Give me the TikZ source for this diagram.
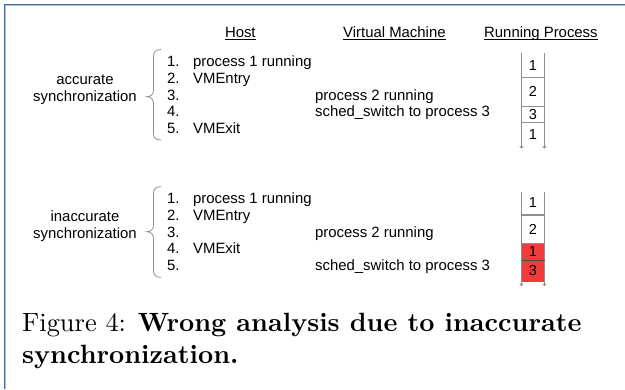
\documentclass[tikz,border=0pt]{standalone}
\usepackage{fontspec}
\usepackage{graphicx}
\usetikzlibrary{arrows.meta}
\newfontfamily\diagfont{Liberation Sans}
\definecolor{framedark}{HTML}{4A6A94}
\definecolor{framelight}{HTML}{A9C1DF}
\definecolor{rulegray}{HTML}{8F8F8F}
\definecolor{hotred}{HTML}{F03C3C}
\begin{document}
\begin{tikzpicture}[x=1pt,y=-1pt,
  txt/.style={font=\diagfont\fontsize{14.9}{17}\selectfont, inner sep=0pt, anchor=base west},
  side/.style={txt, anchor=base},
  digit/.style={font=\diagfont\fontsize{14.5}{17}\selectfont, inner sep=0pt, anchor=center},
  headrule/.style={draw=black, line width=0.9pt},
  bracepath/.style={draw=rulegray, line width=0.8pt},
  colline/.style={draw=rulegray, line width=0.8pt, -{To[length=2.5pt,width=4pt]}},
  divider/.style={draw=rulegray, line width=0.8pt},
  capline/.style={inner sep=0pt, anchor=base west}]
\useasboundingbox (0,0) rectangle (625,389);

% page frame (top and left edges)
\draw[framedark, line width=1.2pt] (4.5,389) -- (4.5,4.6) -- (625,4.6);
\draw[framelight, line width=1pt] (5.8,389) -- (5.8,5.9) -- (625,5.9);

% column headers
\node[txt] (hhost) at (224.8,37) {Host};
\node[txt] (hvm)   at (343,37)   {Virtual Machine};
\node[txt] (hrun)  at (484,37)   {Running Process};
\foreach \h in {hhost,hvm,hrun}
  \draw[headrule] ([yshift=-2.6pt]\h.base west) -- ([yshift=-2.6pt]\h.base east);

% ---------- accurate synchronization ----------
\node[side] (acc1) at (85,84.5) {accurate};
\node[side] (acc2) at (85,101)  {synchronization};
\draw[bracepath] (161,49.5) .. controls (155.5,49.5) and (153.5,52) .. (153.5,57)
  -- (153.5,90) .. controls (153.5,94.5) and (150.5,96.7) .. (147,96.7)
  .. controls (150.5,96.7) and (153.5,99) .. (153.5,103.5)
  -- (153.5,133) .. controls (153.5,138) and (155.5,140) .. (161,140);

\node[txt] (an1) at (167,66.5)  {1.};
\node[txt] (an2) at (167,83.3)  {2.};
\node[txt] (an3) at (167,100)   {3.};
\node[txt] (an4) at (167,116.8) {4.};
\node[txt] (an5) at (167,133.5) {5.};
\node[txt] (ah1) at (193,66.5)  {process 1 running};
\node[txt] (ah2) at (193,83.3)  {VMEntry};
\node[txt] (ah5) at (193,133.5) {VMExit};
\node[txt] (av3) at (315,100)   {process 2 running};
\node[txt] (av4) at (315,116.8) {sched\_switch to process 3};

% running-process column
\draw[colline] (521.5,53) -- (521.5,148.5);
\draw[colline] (544.5,53) -- (544.5,148.5);
\draw[divider] (521.5,77.7) -- (544.5,77.7);
\draw[divider] (521.5,106) -- (544.5,106);
\draw[divider] (521.5,122) -- (544.5,122);
\node[digit] (ap1) at (533,65.3)  {1};
\node[digit] (ap2) at (533,91.8)  {2};
\node[digit] (ap3) at (533,114.2) {3};
\node[digit] (ap4) at (533,134.5) {1};

% ---------- inaccurate synchronization ----------
\node[side] (ina1) at (85,221.5) {inaccurate};
\node[side] (ina2) at (85,238.5) {synchronization};
\draw[bracepath] (161,186.7) .. controls (155.5,186.7) and (153.5,189) .. (153.5,194)
  -- (153.5,225) .. controls (153.5,229.5) and (150.5,231.7) .. (147,231.7)
  .. controls (150.5,231.7) and (153.5,234) .. (153.5,238.5)
  -- (153.5,270) .. controls (153.5,275) and (155.5,277.3) .. (161,277.3);

\node[txt] (in1) at (167,203.6) {1.};
\node[txt] (in2) at (167,220.3) {2.};
\node[txt] (in3) at (167,237)   {3.};
\node[txt] (in4) at (167,253.7) {4.};
\node[txt] (in5) at (167,270.4) {5.};
\node[txt] (ih1) at (193,203.6) {process 1 running};
\node[txt] (ih2) at (193,220.3) {VMEntry};
\node[txt] (ih4) at (193,253.7) {VMExit};
\node[txt] (iv3) at (315,237)   {process 2 running};
\node[txt] (iv5) at (315,270.4) {sched\_switch to process 3};

% running-process column with the wrongly attributed slices
\fill[hotred] (521.5,243.3) rectangle (544.5,282);
\draw[colline] (521.5,191.5) -- (521.5,286);
\draw[colline] (544.5,191.5) -- (544.5,286);
\draw[divider, line width=1.3pt] (521.5,215) -- (544.5,215);
\draw[divider] (521.5,243.3) -- (544.5,243.3);
\draw[draw=black!70, line width=0.8pt] (521.5,260) -- (544.5,260);
\node[digit] (ip1) at (533,203)   {1};
\node[digit] (ip2) at (533,229)   {2};
\node[digit] (ip3) at (533,252)   {1};
\node[digit] (ip4) at (533,270.5) {3};

% caption
\node[capline] (cap1) at (22,331)
  {\scalebox{2.64}{\fontsize{10}{12}\selectfont Figure 4: \textbf{Wrong analysis due to inaccurate}}};
\node[capline] (cap2) at (22,363)
  {\scalebox{2.64}{\fontsize{10}{12}\selectfont \textbf{synchronization.}}};
\end{tikzpicture}
\end{document}
